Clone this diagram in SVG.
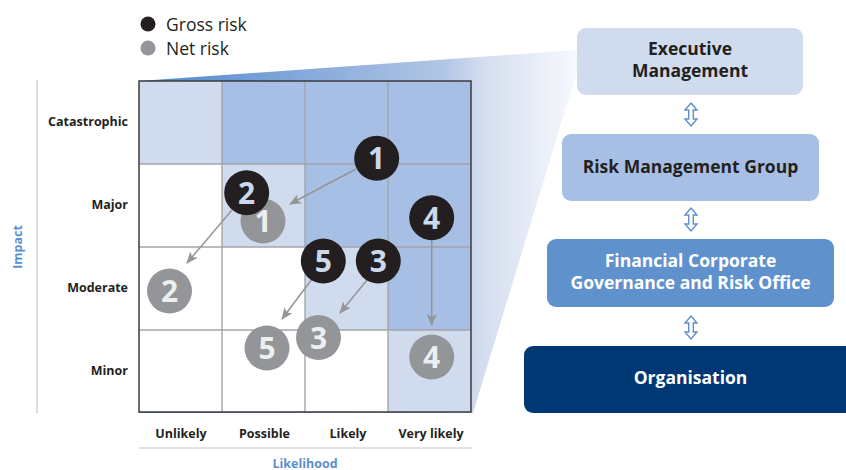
<svg xmlns="http://www.w3.org/2000/svg" width="846" height="470" viewBox="0 0 846 470">
<style>
text{font-family:"Open Sans","Noto Sans","Liberation Sans",sans-serif;}
.ax{font-size:12.5px;font-weight:bold;fill:#231f20;}
.axt{font-size:12.5px;font-weight:bold;fill:#5b8fcf;}
.leg{font-size:17.5px;fill:#231f20;}
.bx{font-size:17.5px;font-weight:bold;text-anchor:middle;}
.gross{fill:#231f20;}
.net{fill:#939598;}
.num{font-size:30px;font-weight:bold;text-anchor:middle;}
.gn{fill:#cdd8ec;}
.nn{fill:#eceef0;}
.arr{stroke:#939598;stroke-width:1.5;fill:none;marker-end:url(#ah);}
.dbl{fill:#fff;stroke:#5b8fcf;stroke-width:1.4;}
.c0{fill:#fff;}.c1{fill:#d0dcee;}.c2{fill:#a7bfe4;}
</style>
<defs>
<linearGradient id="fun" gradientUnits="userSpaceOnUse" x1="139" y1="0" x2="578" y2="0">
<stop offset="0" stop-color="#4f86cc"/>
<stop offset="0.7" stop-color="#b3c7e6"/>
<stop offset="0.78" stop-color="#d3ddef"/>
<stop offset="1" stop-color="#f7f9fd"/>
</linearGradient>
<marker id="ah" viewBox="0 0 12 10" refX="11" refY="5" markerWidth="12" markerHeight="10" markerUnits="userSpaceOnUse" orient="auto">
<path d="M0,0 L12,5 L0,10 L3,5 Z" fill="#939598"/>
</marker>
</defs>

<!-- funnel -->
<polygon points="139,81 578,50 578,68 473,413 139,413" fill="url(#fun)"/>

<!-- legend -->
<g id="legend">
<circle cx="148" cy="24" r="7.5" class="gross"/>
<text x="166" y="31" class="leg">Gross risk</text>
<circle cx="148" cy="48" r="7.5" class="net"/>
<text x="166" y="55" class="leg">Net risk</text>
</g>

<!-- grid -->
<g id="matrix">
<rect x="139" y="81" width="83" height="83" class="c1"/>
<rect x="222" y="81" width="83" height="83" class="c2"/>
<rect x="305" y="81" width="83" height="83" class="c2"/>
<rect x="388" y="81" width="83" height="83" class="c2"/>
<rect x="139" y="164" width="83" height="83" class="c0"/>
<rect x="222" y="164" width="83" height="83" class="c1"/>
<rect x="305" y="164" width="83" height="83" class="c2"/>
<rect x="388" y="164" width="83" height="83" class="c2"/>
<rect x="139" y="247" width="83" height="83" class="c0"/>
<rect x="222" y="247" width="83" height="83" class="c0"/>
<rect x="305" y="247" width="83" height="83" class="c1"/>
<rect x="388" y="247" width="83" height="83" class="c2"/>
<rect x="139" y="330" width="83" height="82" class="c0"/>
<rect x="222" y="330" width="83" height="82" class="c0"/>
<rect x="305" y="330" width="83" height="82" class="c0"/>
<rect x="388" y="330" width="83" height="82" class="c1"/>
<g stroke="#a3a5a8" stroke-width="1.4">
<line x1="222" y1="81" x2="222" y2="412"/>
<line x1="305" y1="81" x2="305" y2="412"/>
<line x1="388" y1="81" x2="388" y2="412"/>
<line x1="139" y1="164" x2="471" y2="164"/>
<line x1="139" y1="247" x2="471" y2="247"/>
<line x1="139" y1="330" x2="471" y2="330"/>
</g>
<rect x="139" y="81" width="332" height="331" fill="none" stroke="#3b3b3d" stroke-width="1.5"/>
</g>

<!-- axes -->
<g id="axes">
<line x1="37" y1="80" x2="37" y2="413" stroke="#c4c5c7" stroke-width="1.2"/>
<text class="axt" transform="translate(22,247) rotate(-90)" text-anchor="middle">Impact</text>
<text x="128" y="126" class="ax" text-anchor="end">Catastrophic</text>
<text x="128" y="209" class="ax" text-anchor="end">Major</text>
<text x="128" y="292" class="ax" text-anchor="end">Moderate</text>
<text x="128" y="375" class="ax" text-anchor="end">Minor</text>
<text x="181" y="438" class="ax" text-anchor="middle">Unlikely</text>
<text x="264.5" y="438" class="ax" text-anchor="middle">Possible</text>
<text x="348" y="438" class="ax" text-anchor="middle">Likely</text>
<text x="431" y="438" class="ax" text-anchor="middle">Very likely</text>
<line x1="139" y1="448" x2="472" y2="448" stroke="#c4c5c7" stroke-width="1.2"/>
<text x="305" y="467.5" class="axt" text-anchor="middle">Likelihood</text>
</g>

<!-- net risks -->
<g id="net1"><circle cx="263" cy="221" r="22.5" class="net"/><text x="263" y="232" class="num nn">1</text></g>
<g id="net2"><circle cx="169.5" cy="291" r="22.5" class="net"/><text x="169.5" y="302" class="num nn">2</text></g>
<g id="net5"><circle cx="267" cy="348" r="22.5" class="net"/><text x="267" y="359" class="num nn">5</text></g>
<g id="net3"><circle cx="318.5" cy="337.5" r="22.5" class="net"/><text x="318.5" y="348.5" class="num nn">3</text></g>
<g id="net4"><circle cx="431.7" cy="357" r="22.5" class="net"/><text x="431.7" y="368" class="num nn">4</text></g>

<!-- connectors -->
<g id="connectors">
<line x1="356" y1="169" x2="290" y2="204" class="arr"/>
<line x1="232" y1="210" x2="187" y2="263" class="arr"/>
<line x1="312" y1="279" x2="282" y2="319" class="arr"/>
<line x1="367" y1="280" x2="340" y2="313" class="arr"/>
<line x1="431.7" y1="238" x2="431.7" y2="325" class="arr"/>
</g>

<!-- gross risks -->
<g id="gross1"><circle cx="376.7" cy="158.3" r="22.5" class="gross"/><text x="376.7" y="169.3" class="num gn">1</text></g>
<g id="gross2"><circle cx="246.7" cy="192.7" r="22.5" class="gross"/><text x="246.7" y="203.7" class="num gn">2</text></g>
<g id="gross4"><circle cx="431.7" cy="217.7" r="22.5" class="gross"/><text x="431.7" y="228.7" class="num gn">4</text></g>
<g id="gross5"><circle cx="323.3" cy="261" r="22.5" class="gross"/><text x="323.3" y="272" class="num gn">5</text></g>
<g id="gross3"><circle cx="378.3" cy="261" r="22.5" class="gross"/><text x="378.3" y="272" class="num gn">3</text></g>

<!-- hierarchy -->
<g id="exec">
<rect x="577" y="28" width="226" height="67" rx="9" fill="#d0dcee"/>
<text x="690" y="55" class="bx" fill="#231f20">Executive</text>
<text x="690" y="77" class="bx" fill="#231f20">Management</text>
</g>
<g id="rmg">
<rect x="562" y="134" width="257" height="67" rx="9" fill="#a7bfe4"/>
<text x="690.5" y="173" class="bx" fill="#231f20">Risk Management Group</text>
</g>
<g id="fcg">
<rect x="547" y="239" width="287" height="68" rx="9" fill="#5f92cd"/>
<text x="690.5" y="267" class="bx" fill="#fff">Financial Corporate</text>
<text x="690.5" y="289" class="bx" fill="#fff">Governance and Risk Office</text>
</g>
<g id="org">
<rect x="524" y="346" width="332" height="67" rx="9" fill="#003876"/>
<text x="690.5" y="384" class="bx" fill="#fff">Organisation</text>
</g>
<g id="links">
<path class="dbl" d="M691,103 L697,110 L693.3,110 L693.3,119 L697,119 L691,126 L685,119 L688.7,119 L688.7,110 L685,110 Z"/>
<path class="dbl" d="M691,208 L697,215 L693.3,215 L693.3,224 L697,224 L691,231 L685,224 L688.7,224 L688.7,215 L685,215 Z"/>
<path class="dbl" d="M691,316 L697,323 L693.3,323 L693.3,332 L697,332 L691,339 L685,332 L688.7,332 L688.7,323 L685,323 Z"/>
</g>
</svg>
